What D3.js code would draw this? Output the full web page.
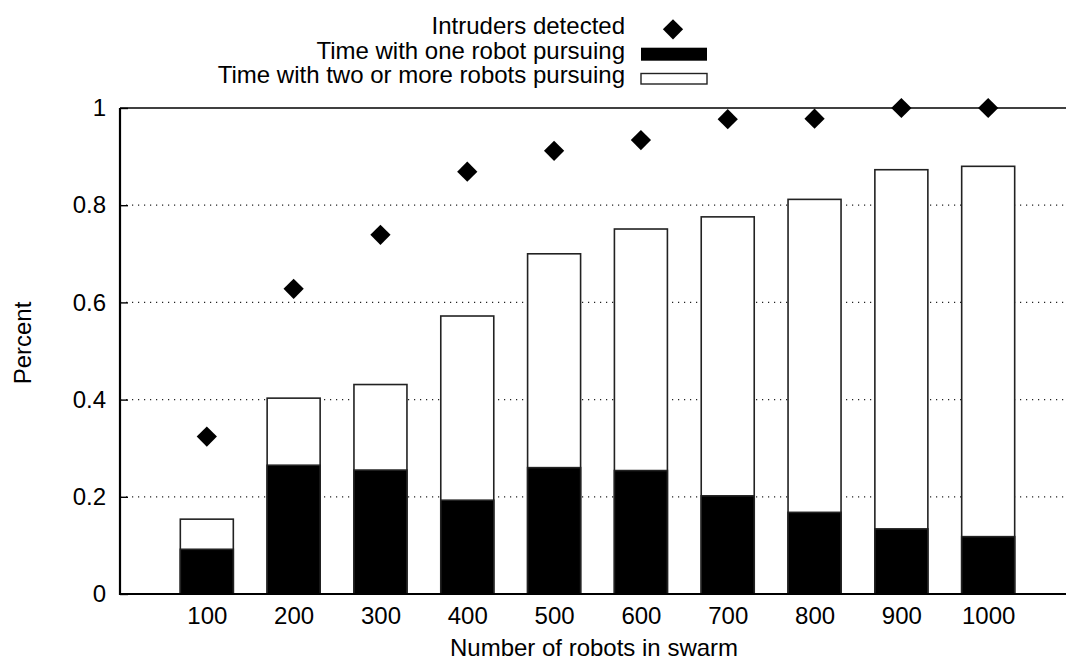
<!DOCTYPE html>
<html>
<head>
<meta charset="utf-8">
<script src="https://cdn.jsdelivr.net/npm/d3@7"></script>
<style>
  html, body { margin: 0; padding: 0; background: #fff; }
  svg { display: block; }
  text { font-family: "Liberation Sans", Arial, Helvetica, sans-serif; fill: #000; }
</style>
</head>
<body>
<svg id="chart" width="1066" height="662"></svg>
<script>
const categories = ["100","200","300","400","500","600","700","800","900","1000"];
const oneRobot   = [0.092, 0.265, 0.255, 0.193, 0.260, 0.254, 0.202, 0.168, 0.134, 0.118];
const totalPursuit = [0.154, 0.403, 0.431, 0.572, 0.700, 0.751, 0.776, 0.812, 0.873, 0.880];
const detected   = [0.324, 0.628, 0.739, 0.869, 0.912, 0.934, 0.977, 0.978, 1.0, 1.0];
const yTicks     = [0, 0.2, 0.4, 0.6, 0.8, 1];
const yTickLabels = ["0", "0.2", "0.4", "0.6", "0.8", "1"];
const legendLabels = ["Intruders detected", "Time with one robot pursuing", "Time with two or more robots pursuing"];

(function () {
const svg = d3.select("#chart");
const W = 1066;
const pLeft = 120, pRight = 1075, pTop = 108, pBottom = 594;
const FS = 24;
const FF = '"Liberation Sans", Arial, Helvetica, sans-serif';

const x = d3.scalePoint().domain(categories).range([pLeft, pRight]).padding(1);
const y = d3.scaleLinear().domain([0, 1]).range([pBottom, pTop]);
const barW = 53;

// grid (dotted)
svg.append("g").selectAll("line").data(yTicks.filter(t => t > 0 && t < 1)).join("line")
  .attr("x1", pLeft).attr("x2", W)
  .attr("y1", d => y(d)).attr("y2", d => y(d))
  .attr("stroke", "#222").attr("stroke-width", 1.2)
  .attr("stroke-dasharray", "1.2,4.8");

// top line at 1
svg.append("line").attr("x1", pLeft).attr("x2", W).attr("y1", y(1)).attr("y2", y(1))
  .attr("stroke", "#000").attr("stroke-width", 1.6);

// bars: white (total) then black (one robot)
const bars = svg.append("g");
bars.selectAll("rect.tot").data(categories).join("rect").attr("class", "tot")
  .attr("x", d => x(d) - barW / 2).attr("width", barW)
  .attr("y", (d, i) => y(totalPursuit[i])).attr("height", (d, i) => y(0) - y(totalPursuit[i]))
  .attr("fill", "#fff").attr("stroke", "#222").attr("stroke-width", 1.6);
bars.selectAll("rect.one").data(categories).join("rect").attr("class", "one")
  .attr("x", d => x(d) - barW / 2).attr("width", barW)
  .attr("y", (d, i) => y(oneRobot[i])).attr("height", (d, i) => y(0) - y(oneRobot[i]))
  .attr("fill", "#000").attr("stroke", "#222").attr("stroke-width", 1.6);

// diamonds
const diamond = d3.symbol().type(d3.symbolSquare).size(205);
svg.append("g").selectAll("path").data(categories).join("path")
  .attr("d", diamond)
  .attr("transform", (d, i) => `translate(${x(d)},${y(detected[i])}) rotate(45)`)
  .attr("fill", "#000");

// axes
const yAxis = d3.axisLeft(y).tickValues(yTicks).tickFormat((d, i) => yTickLabels[i]).tickSize(-8).tickPadding(14);
const gy = svg.append("g").attr("transform", `translate(${pLeft},0)`).call(yAxis);
gy.select(".domain").remove();
gy.selectAll(".tick line").attr("stroke", "#000").attr("stroke-width", 1.4);
gy.selectAll(".tick text").attr("font-size", FS).attr("font-family", FF).attr("fill", "#000");

const xAxis = d3.axisBottom(x).tickSize(0).tickPadding(13);
const gx = svg.append("g").attr("transform", `translate(0,${pBottom})`).call(xAxis);
gx.select(".domain").remove();
gx.selectAll(".tick text").attr("font-size", FS).attr("font-family", FF).attr("fill", "#000");

svg.append("line").attr("x1", pLeft).attr("x2", W).attr("y1", pBottom).attr("y2", pBottom)
  .attr("stroke", "#000").attr("stroke-width", 2.2);
svg.append("line").attr("x1", pLeft).attr("x2", pLeft).attr("y1", pTop).attr("y2", pBottom + 1)
  .attr("stroke", "#000").attr("stroke-width", 2.2);

// axis titles
svg.append("text").attr("x", 594).attr("y", 656).attr("text-anchor", "middle")
  .attr("font-size", FS).text("Number of robots in swarm");
svg.append("text").attr("transform", "translate(31,343) rotate(-90)").attr("text-anchor", "middle")
  .attr("font-size", FS).text("Percent");

// legend
const lg = svg.append("g");
const rowsY = [34, 58.5, 83];
lg.selectAll("text").data(legendLabels).join("text")
  .attr("x", 625).attr("y", (d, i) => rowsY[i]).attr("text-anchor", "end")
  .attr("font-size", FS).text(d => d);
lg.append("path").attr("d", diamond).attr("transform", `translate(673,29.3) rotate(45)`).attr("fill", "#000");
lg.append("rect").attr("x", 641).attr("y", 47.7).attr("width", 66).attr("height", 13).attr("fill", "#000");
lg.append("rect").attr("x", 641).attr("y", 73.5).attr("width", 66).attr("height", 10.5)
  .attr("fill", "#fff").attr("stroke", "#222").attr("stroke-width", 1.4);
})();
</script>
</body>
</html>
